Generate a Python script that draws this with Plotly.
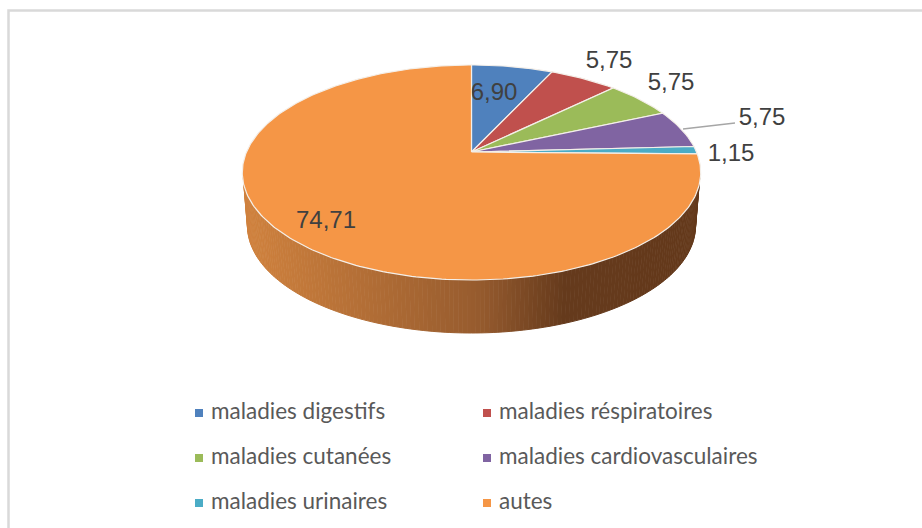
import numpy as np
import plotly.graph_objects as go

categories = ["maladies digestifs", "maladies réspiratoires", "maladies cutanées",
              "maladies cardiovasculaires", "maladies urinaires", "autes"]
values = [6.90, 5.75, 5.75, 5.75, 1.15, 74.71]
value_labels = ["6,90", "5,75", "5,75", "5,75", "1,15", "74,71"]
colors = ["#4f81bd", "#c0504d", "#9bbb59", "#8064a2", "#4bacc6", "#f59646"]

# layout (pixels)
W, H = 922, 528
APEX_X, APEX_Y = 471.5, 152
B, A, P = 225, 103.6, 0.1907
DEPTH_CY, DEPTH_RX, DEPTH_RY = 226, 224, 107
TOP_CY, TOP_RX, TOP_RY = 172.5, 228.5, 107.5
LABEL_XY = [(494, 94), (609, 62), (671, 84), (762, 119), (731, 155), (326, 222)]
LEGEND_XY = [(199, 413), (487, 413), (199, 458), (487, 458), (199, 503), (487, 503)]


def project(theta):
    X, Y = np.sin(theta), np.cos(theta)
    w = 1 + P * Y
    return APEX_X + B * X / w, APEX_Y - A * Y / w


fig = go.Figure()


def side_color(x):
    stops_x = [243, 480, 565, 701]
    r = np.interp(x, stops_x, [208, 150, 101, 100])
    g = np.interp(x, stops_x, [130, 91, 58, 57])
    b = np.interp(x, stops_x, [62, 46, 28, 27])
    return f"rgb({r:.0f},{g:.0f},{b:.0f})"


ts = np.linspace(np.pi, 0, 161)
for t0, t1 in zip(ts[:-1], ts[1:]):
    tt = np.array([t0, t1])
    xt = APEX_X + TOP_RX * np.cos(tt)
    yt = TOP_CY + TOP_RY * np.sin(tt)
    xb = APEX_X + DEPTH_RX * np.cos(tt)
    yb = DEPTH_CY + DEPTH_RY * np.sin(tt)
    c = side_color(xt.mean())
    fig.add_trace(go.Scatter(
        x=list(xt) + list(xb[::-1]), y=list(yt) + list(yb[::-1]),
        mode="lines", fill="toself", fillcolor=c,
        line=dict(width=1, color=c), hoverinfo="skip", showlegend=False))

shares = np.array(values) / sum(values)
edges = np.concatenate([[0], np.cumsum(shares)]) * 2 * np.pi
for i, cat in enumerate(categories):
    th = np.linspace(edges[i], edges[i + 1], max(4, int(shares[i] * 400)))
    x, y = project(th)
    fig.add_trace(go.Scatter(
        x=[APEX_X] + list(x) + [APEX_X], y=[APEX_Y] + list(y) + [APEX_Y],
        mode="lines", fill="toself", fillcolor=colors[i],
        line=dict(color="#f4efe9", width=1.2), name=cat,
        hoverinfo="name", showlegend=False))

fig.add_trace(go.Scatter(x=[683, 707, 735], y=[129, 126, 123], mode="lines",
                         line=dict(color="#a6a6a6", width=1.5),
                         hoverinfo="skip", showlegend=False))

fig.add_trace(go.Scatter(
    x=[p[0] for p in LABEL_XY], y=[p[1] for p in LABEL_XY], text=value_labels,
    mode="text", textposition="middle center",
    textfont=dict(family="Liberation Sans", size=24, color="#404040"),
    hoverinfo="skip", showlegend=False))

fig.add_trace(go.Scatter(
    x=[p[0] for p in LEGEND_XY], y=[p[1] for p in LEGEND_XY],
    mode="markers", marker=dict(symbol="square", size=8, color=colors),
    hoverinfo="skip", showlegend=False))
fig.add_trace(go.Scatter(
    x=[p[0] + 12 for p in LEGEND_XY], y=[p[1] for p in LEGEND_XY], text=categories,
    mode="text", textposition="middle right",
    textfont=dict(family="Lato", size=22.5, color="#595959"),
    hoverinfo="skip", showlegend=False))

fig.update_layout(
    width=W, height=H, margin=dict(l=0, r=0, t=0, b=0),
    paper_bgcolor="white", plot_bgcolor="white",
    xaxis=dict(range=[0, W], visible=False, fixedrange=True),
    yaxis=dict(range=[H, 0], visible=False, fixedrange=True),
    shapes=[dict(type="rect", xref="x", yref="y", x0=8.5, x1=940, y0=10.5, y1=545,
                 line=dict(color="#d9d9d9", width=2.5), layer="below")],
)
fig.write_html("out.html", config=dict(displayModeBar=False),
               post_script="document.body.style.margin='0';document.body.style.overflow='hidden';")
